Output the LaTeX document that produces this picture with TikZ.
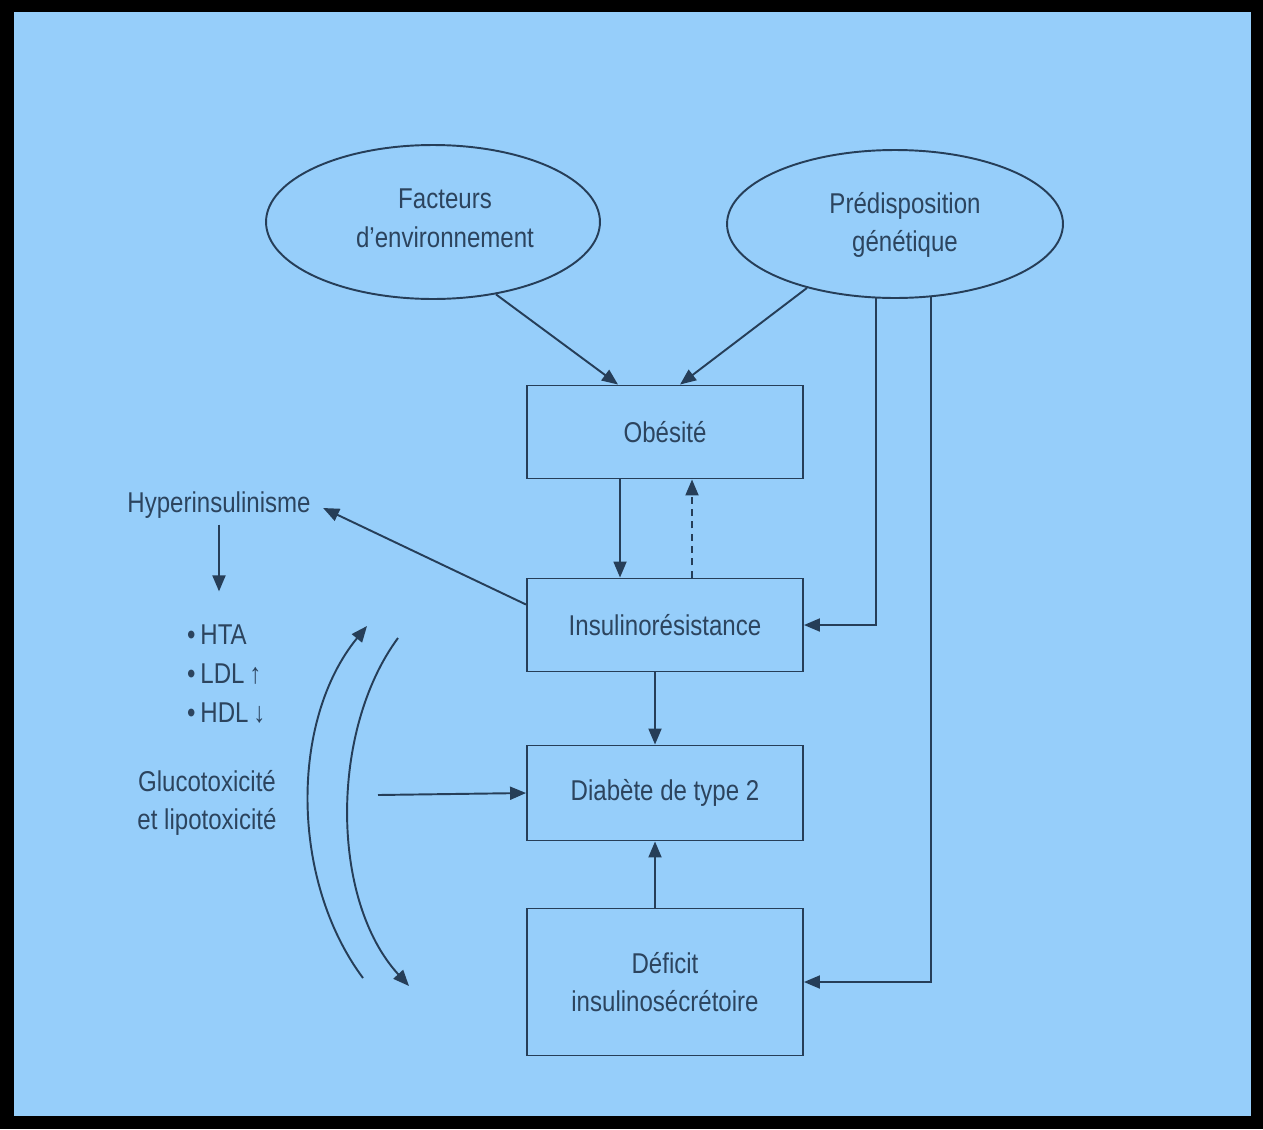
\documentclass[tikz,border=0pt]{standalone}
\usepackage{fontspec}
\setmainfont{Liberation Sans}[FakeStretch=0.84]
\usetikzlibrary{shapes.geometric, arrows.meta, positioning, calc}
\definecolor{bgColor}{RGB}{150,206,250}
\definecolor{drawColor}{RGB}{38,62,88}
\definecolor{textColor}{RGB}{44,68,94}
\tikzstyle{box}=[rectangle, align=center, draw=drawColor, line width=1.1pt,
minimum width=5.52cm, minimum height=1.86cm, text=textColor]
\tikzstyle{cause}=[ellipse, draw=drawColor, line width=1.1pt, inner sep=0pt]
\tikzstyle{note}=[align=center, text=textColor]
\tikzstyle{arrow}=[-{Triangle[length=3.2mm, width=2.6mm]}, line width=1.1pt, draw=drawColor]

\begin{document}
\begin{tikzpicture}[x=0.02cm, y=-0.02cm,
    every node/.style={font=\fontsize{16.3}{22}\selectfont}]
    % frame
    \fill [black] (0,0) rectangle (1263,1129);
    \fill [bgColor] (14,12) rectangle (1251,1116);
    % causes
    \node (env) [cause, minimum width=6.68cm, minimum height=3.08cm] at (433,222) {};
    \node (envText) [note] at (445,218) {Facteurs\\d'environnement};
    \node (pred) [cause, minimum width=6.72cm, minimum height=2.96cm] at (895,224) {};
    \node (predText) [note] at (905,225) {Prédisposition\\génétique};
    % main chain
    \node (obes) [box] at (665,432) {Obésité};
    \node (ins) [box] at (665,625) {Insulinorésistance};
    \node (diab) [box, minimum height=1.9cm] at (665,793) {Diabète de type 2};
    \node (def) [box, minimum height=2.94cm] at (665,982) {Déficit\\insulinosécrétoire};
    % left side
    \node (hyper) [note] at (219,505) {Hyperinsulinisme};
    \node (risks) [note, align=left, anchor=west] at (181,674)
      {\textbullet\,HTA\\\textbullet\,LDL\,↑\\\textbullet\,HDL\,↓};
    \node (tox) [note] at (207,803) {Glucotoxicité\\et lipotoxicité};
    \coordinate (toxStart) at (378,795);
    \coordinate (arcUpStart) at (363,978);
    \coordinate (arcUpEnd) at (367,626);
    \coordinate (arcDownStart) at (398,638);
    \coordinate (arcDownEnd) at (409,986);
    % connectors
    \draw [arrow] (env.-49) -- ([xshift=-0.94cm]obes.north);
    \draw [arrow] (pred.216) -- ([xshift=0.3cm]obes.north);
    \draw [arrow] ([xshift=-0.9cm]obes.south) -- ([xshift=-0.9cm]ins.north);
    \draw [arrow, dash pattern=on 4pt off 3pt] ([xshift=0.54cm]ins.north) -- ([xshift=0.54cm]obes.south);
    \draw [arrow] (pred.-104) |- (ins.east);
    \draw [arrow] (pred.-64) |- (def.east);
    \draw [arrow] ([xshift=-0.2cm]ins.south) -- ([xshift=-0.2cm]diab.north);
    \draw [arrow] ([xshift=-0.2cm]def.north) -- ([xshift=-0.2cm]diab.south);
    \draw [arrow, shorten >=4pt] ([yshift=-0.54cm]ins.north west) -- (hyper.east);
    \draw [arrow] (hyper.south) -- ([yshift=0.55cm]hyper.south |- risks.north);
    \draw [arrow] (toxStart) -- (diab.west);
    \draw [arrow] (arcUpStart) .. controls (290,880) and (290,720) .. (arcUpEnd);
    \draw [arrow] (arcDownStart) .. controls (330,730) and (330,900) .. (arcDownEnd);
  \end{tikzpicture}
\end{document}
